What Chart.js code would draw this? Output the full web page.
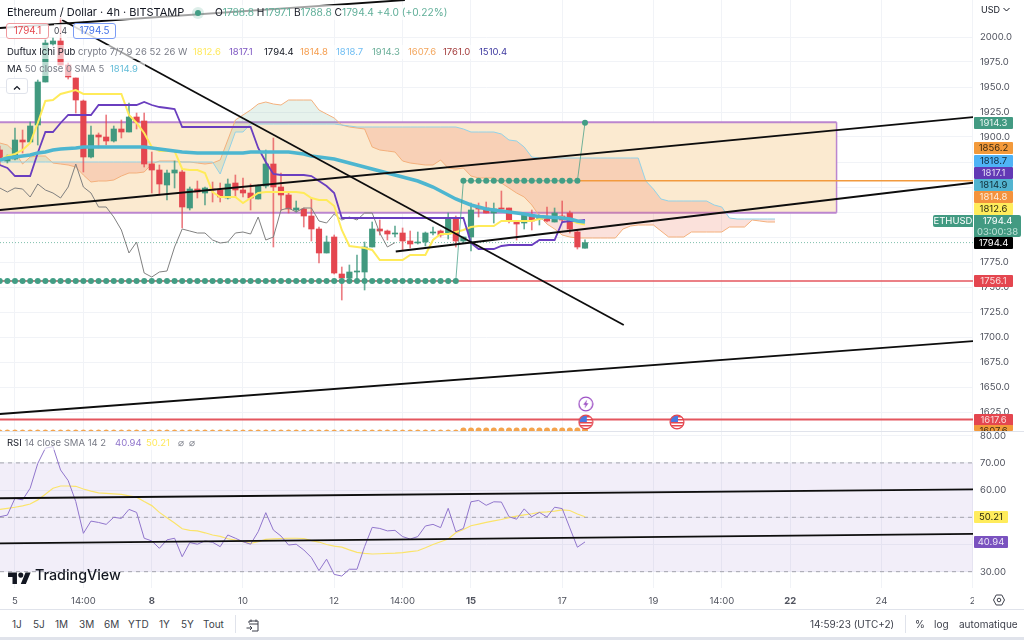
<!DOCTYPE html>
<html lang="fr">
<head>
<meta charset="utf-8">
<title>Ethereum / Dollar 4h</title>
<script src="https://cdn.jsdelivr.net/npm/chart.js@4"></script>
<style>
    html, body { margin: 0; padding: 0; background: #fff; }
    body { position: relative; width: 1024px; height: 640px; overflow: hidden; font-family: Inter, sans-serif; color: #131722; }
    canvas { position: absolute; left: 0; }
    #mainChart { top: 0; }
    #rsiChart { top: 431px; }
    .abs { position: absolute; white-space: nowrap; }
    .row { position: absolute; height: 14px; line-height: 14px; font-size: 9.5px; background: rgba(255,255,255,.62); white-space: nowrap; z-index: 5; }
    .row span { position: absolute; top: 0; }
    .grey { color: #787b86; }
    .tag { position: absolute; left: 974px; width: 39px; height: 12px; line-height: 12px; font-size: 9.5px; text-align: center; border-radius: 1px; overflow: hidden; z-index: 6; }
    .tool { position: absolute; top: 617px; height: 15px; line-height: 15px; font-size: 10px; color: #3c3f4a; white-space: nowrap; }
</style>
</head>
<body>
<canvas id="mainChart" width="1024" height="431"></canvas>
<canvas id="rsiChart" width="1024" height="178"></canvas>

<div class="abs" style="left:0;top:431px;width:1024px;height:1px;background:#e0e3eb;z-index:4"></div>
<div class="abs" style="left:0;top:609px;width:1024px;height:1px;background:#e0e3eb"></div>
<div class="abs" style="left:0;top:637px;width:1024px;height:3px;background:#e0e3eb"></div>

<!-- legende -->
<div class="row" style="left:6px;top:5px;width:446px;height:15px"></div>
<div class="abs" style="left:7px;top:4px;font-size:11px;line-height:16px;z-index:6">Ethereum / Dollar · 4h · BITSTAMP</div>
<div class="abs" style="left:195px;top:10px;width:6px;height:6px;border-radius:50%;background:#429e85;box-shadow:0 0 0 3px rgba(66,158,133,.18);z-index:6"></div>
<div class="abs" style="left:215px;top:5px;font-size:10.2px;line-height:15px;color:#5fae98;z-index:6"><span style="color:#131722">O</span>1788.8 <span style="color:#131722">H</span>1797.1 <span style="color:#131722">B</span>1788.8 <span style="color:#131722">C</span>1794.4 +4.0 (+0.22%)</div>

<div class="abs" style="left:6px;top:23px;width:41px;height:14px;line-height:14px;border:1px solid #ef9a9f;border-radius:3px;background:rgba(255,255,255,.85);color:#e5484f;font-size:9.8px;text-align:center;z-index:6">1794.1</div>
<div class="abs" style="left:54px;top:24px;font-size:8.5px;line-height:14px;color:#434651;background:rgba(255,255,255,.7);z-index:6">0.4</div>
<div class="abs" style="left:73px;top:23px;width:41px;height:14px;line-height:14px;border:1px solid #7b9cf5;border-radius:3px;background:rgba(255,255,255,.85);color:#3f6fe8;font-size:9.8px;text-align:center;z-index:6">1794.5</div>

<div class="row" style="left:6px;top:45px;width:506px">
    <span style="left:1px">Duftux Ichi Pub <span class="grey" style="position:static">crypto 7/7 9 26 52 26 W</span></span>
    <span style="left:187px;color:#ffe95c">1812.6</span>
    <span style="left:223px;color:#7e57c2">1817.1</span>
    <span style="left:258px;color:#131722">1794.4</span>
    <span style="left:294px;color:#f59d4e">1814.8</span>
    <span style="left:330px;color:#6fbdf2">1818.7</span>
    <span style="left:366px;color:#6aae98">1914.3</span>
    <span style="left:402px;color:#f3a65d">1607.6</span>
    <span style="left:437px;color:#a33d3d">1761.0</span>
    <span style="left:473px;color:#3f3aa0">1510.4</span>
</div>
<div class="row" style="left:6px;top:62px;width:139px">
    <span style="left:1px">MA <span class="grey" style="position:static">50 close 0 SMA 5</span></span>
    <span style="left:104px;color:#63bcd8">1814.9</span>
</div>
<div class="abs" style="left:6px;top:78px;width:20px;height:14px;border:1px solid #e0e3eb;border-radius:3px;background:#fff;z-index:6">
    <svg width="20" height="14"><path d="M7 8.5l3-3 3 3" fill="none" stroke="#131722" stroke-width="1.2"/></svg>
</div>

<div class="row" style="left:6px;top:436px;width:192px">
    <span style="left:1px">RSI <span class="grey" style="position:static">14 close SMA 14 2</span></span>
    <span style="left:109px;color:#9075cc">40.94</span>
    <span style="left:140px;color:#ffe95c">50.21</span>
    <span class="grey" style="left:172px">⌀</span>
    <span class="grey" style="left:183px">⌀</span>
</div>

<!-- axe des prix -->
<div class="abs" style="left:981px;top:3px;font-size:9px;line-height:14px;color:#131722;z-index:6">USD <svg width="7" height="6"><path d="M0.5 1l3 3 3-3" fill="none" stroke="#131722"/></svg></div>
<div id="tags"></div>
<div class="abs" style="left:933px;top:215px;width:40px;height:12px;line-height:12px;background:#429a82;color:#fff;font-size:9.5px;text-align:center;border-radius:2px 0 0 2px;z-index:6">ETHUSD</div>
<div class="abs" style="left:974px;top:215px;width:47px;height:22px;background:#429a82;color:#fff;font-size:9.5px;line-height:11px;text-align:center;border-radius:0 2px 2px 0;z-index:6">1794.4<br><span style="color:#bfe2d8">03:00:38</span></div>

<!-- logo -->
<div class="abs" style="left:8px;top:568px;z-index:6">
    <svg width="23" height="14" viewBox="0 0 36 22"><path d="M14 22H7V11H0V4h14v18zM28 22h-8l7.5-18h8L28 22z" fill="#131722"/><circle cx="20" cy="8" r="4" fill="#131722"/></svg>
</div>
<div class="abs" style="left:35px;top:566px;font-size:14.3px;line-height:18px;font-weight:500;color:#131722;z-index:6">TradingView</div>

<!-- engrenage -->
<div class="abs" style="left:974px;top:590px;width:50px;height:18px;background:#fff">
    <svg style="position:absolute;left:19px;top:4px" width="12" height="12" viewBox="0 0 12 12"><path d="M3.2 1h5.6L11.5 6 8.8 11H3.2L.5 6z" fill="none" stroke="#3c3f4a"/><circle cx="6" cy="6" r="1.8" fill="none" stroke="#3c3f4a"/></svg>
</div>

<!-- barre du bas -->
<div id="rangeBar"></div>
<div class="abs" style="left:235px;top:615px;width:1px;height:18px;background:#e0e3eb"></div>
<div class="abs" style="left:246px;top:617px">
    <svg width="14" height="14" viewBox="0 0 14 14"><path d="M3 4V2h9v10H6M3 5h9M5 .5v2.5M10 .5v2.5M.5 9H6M4 7l2 2-2 2" fill="none" stroke="#3c3f4a"/></svg>
</div>
<div class="tool" style="left:810px">14:59:23 (UTC+2)</div>
<div class="abs" style="left:905px;top:615px;width:1px;height:18px;background:#e0e3eb"></div>
<div class="tool" style="left:915px">%</div>
<div class="tool" style="left:934px">log</div>
<div class="tool" style="left:959px">automatique</div>

<script>
    // ===== donnees =====
    const firstBar = -2;   // les series commencent 2 bougies avant le repere "5"

    const opens = [1887, 1876, 1878, 1897, 1895, 1912, 1955, 1993, 1996, 1972,
        1959, 1936, 1880, 1902, 1900, 1896, 1908, 1905, 1920, 1916,
        1873, 1867, 1852, 1864, 1865, 1829, 1848, 1844, 1848, 1847,
        1839, 1854, 1847, 1844, 1838, 1851, 1873, 1850, 1842, 1827,
        1828, 1821, 1808, 1784, 1800, 1763, 1759, 1765, 1765, 1790,
        1808, 1806, 1803, 1804, 1796, 1794, 1795, 1804, 1806, 1803,
        1819, 1796, 1800, 1830, 1829, 1824, 1829, 1829, 1816, 1814,
        1822, 1818, 1820, 1815, 1821, 1824, 1805, 1788.8];
    const highs = [1891, 1882, 1909, 1907, 1915, 1957, 1997, 1999, 2019, 1974,
        1959, 1937, 1911, 1904, 1922, 1911, 1917, 1934, 1924, 1924,
        1885, 1872, 1867, 1876, 1867, 1850, 1856, 1850, 1855, 1854,
        1858, 1862, 1859, 1853, 1852, 1887, 1899, 1864, 1844, 1836,
        1829, 1839, 1810, 1801, 1802, 1770, 1772, 1782, 1795, 1815,
        1817, 1807, 1811, 1809, 1806, 1805, 1805, 1810, 1807, 1824,
        1821, 1800, 1834, 1834, 1835, 1834, 1846, 1829, 1816, 1822,
        1827, 1822, 1830, 1829, 1836, 1826, 1807, 1797.1];
    const lows = [1872, 1874, 1877, 1884, 1894, 1892, 1955, 1991, 1972, 1958,
        1924, 1865, 1879, 1889, 1892, 1895, 1899, 1905, 1908, 1870,
        1844, 1842, 1837, 1849, 1809, 1827, 1839, 1832, 1835, 1835,
        1838, 1840, 1840, 1827, 1838, 1849, 1790, 1827, 1824, 1825,
        1810, 1796, 1774, 1784, 1763, 1737, 1759, 1755, 1747, 1790,
        1802, 1797, 1800, 1787, 1789, 1793, 1791, 1802, 1800, 1798,
        1790, 1794, 1786, 1820, 1824, 1814, 1828, 1814, 1797, 1808,
        1807, 1812, 1815, 1815, 1815, 1804, 1788, 1788.8];
    const closes = [1877, 1879, 1897, 1895, 1911, 1955, 1994, 1996, 1972, 1960,
        1937, 1880, 1902, 1900, 1896, 1908, 1905, 1920, 1915, 1873,
        1867, 1853, 1864, 1867, 1830, 1848, 1845, 1849, 1847, 1840,
        1853, 1847, 1844, 1839, 1851, 1873, 1850, 1842, 1828, 1829,
        1821, 1808, 1784, 1795, 1764, 1759, 1765, 1766, 1790, 1808,
        1806, 1803, 1804, 1796, 1793, 1795, 1804, 1805, 1802, 1819,
        1796, 1800, 1827, 1828, 1824, 1828, 1828, 1816, 1813, 1822,
        1816, 1820, 1816, 1824, 1817, 1808, 1790, 1794.4];

    const conversionLine = [1877, 1881, 1883, 1887, 1894, 1914, 1936, 1937, 1943, 1945,
        1947, 1943, 1943, 1943, 1943, 1943, 1943, 1922, 1914, 1904,
        1890, 1886, 1886, 1886, 1868, 1867, 1867, 1864, 1845, 1840,
        1840, 1840, 1834, 1839, 1844, 1845, 1845, 1845, 1845, 1845,
        1844, 1839, 1837, 1837, 1831, 1807, 1791, 1790, 1789, 1787,
        1777, 1777, 1777, 1777, 1782, 1782, 1782, 1797, 1803, 1803,
        1805, 1807, 1810, 1811, 1811, 1811, 1816, 1816, 1816, 1816,
        1816, 1818, 1820, 1820, 1820, 1817, 1814, 1812.6];
    const baseLine = [1872, 1869, 1861, 1861, 1861, 1884, 1905, 1905, 1914, 1922,
        1922, 1922, 1922, 1932, 1932, 1932, 1932, 1932, 1932, 1935,
        1932, 1930, 1929, 1928, 1910, 1910, 1910, 1910, 1910, 1910,
        1910, 1910, 1910, 1910, 1889, 1875, 1863, 1862, 1862, 1862,
        1862, 1861, 1856, 1851, 1844, 1819, 1819, 1819, 1819, 1819,
        1819, 1819, 1819, 1819, 1819, 1819, 1819, 1819, 1819, 1819,
        1819, 1819, 1794, 1788, 1788, 1788, 1791, 1792, 1792, 1792,
        1792, 1797, 1797, 1797, 1815, 1816, 1816, 1817.1];
    const laggingLine = [1849, 1845, 1849, 1848, 1840, 1853, 1847, 1844, 1839, 1850,
        1873, 1850, 1844, 1830, 1830, 1820, 1807, 1784, 1795, 1764,
        1760, 1765, 1766, 1790, 1808, 1806, 1804, 1804, 1797, 1794,
        1795, 1804, 1805, 1803, 1820, 1797, 1800, 1827, 1829, 1825,
        1829, 1829, 1816, 1814, 1823, 1817, 1820, 1817, 1824, 1824,
        1804, 1790, 1794.4];
    const movingAverage = [1877, 1879, 1880, 1881, 1882, 1884, 1885, 1887, 1888, 1888.5,
        1889, 1890, 1890, 1890, 1890, 1890, 1890, 1890, 1890, 1890,
        1889, 1888, 1887, 1886, 1885, 1884.5, 1884, 1884, 1884, 1884,
        1884, 1884, 1884, 1885, 1885, 1885, 1885, 1885, 1885, 1884,
        1883, 1881, 1880, 1879, 1878, 1876, 1874, 1872, 1870, 1868,
        1866, 1864, 1862, 1860, 1858, 1856, 1853, 1850, 1846, 1842,
        1838, 1835, 1832, 1830, 1828, 1827, 1826, 1825, 1824, 1823,
        1821.5, 1820.5, 1820, 1819.5, 1819, 1818, 1816, 1814.9];
    const spanOrange = [1894, 1892, 1885, 1873, 1880, 1881, 1881, 1874, 1873, 1872,
        1870, 1862, 1855, 1856, 1856, 1857, 1861, 1864, 1864, 1865,
        1873, 1876, 1876, 1876, 1875, 1875, 1874, 1873, 1874, 1877,
        1897, 1917, 1922, 1927, 1933, 1935, 1933, 1932, 1937, 1937,
        1937, 1937, 1927, 1923, 1919, 1912, 1910, 1909, 1908, 1890,
        1887, 1886, 1885, 1876, 1874, 1873, 1872, 1872, 1877, 1869,
        1868, 1869, 1861, 1859, 1859, 1859, 1854, 1849, 1844, 1840,
        1832, 1821, 1813, 1808, 1802, 1800, 1799, 1799, 1799, 1799,
        1799, 1799, 1808, 1811, 1812, 1812, 1812, 1806, 1800, 1800,
        1800, 1805, 1805, 1805, 1805, 1805, 1810, 1810, 1810, 1817,
        1816, 1815, 1815];
    const spanBlue = [1875, 1875, 1875, 1875, 1875, 1875, 1875, 1875, 1875, 1875,
        1875, 1875, 1875, 1875, 1875, 1875, 1875, 1875, 1875, 1875,
        1875, 1875, 1875, 1875, 1875, 1875, 1875, 1875, 1875, 1863,
        1884, 1905, 1905, 1913, 1913, 1913, 1913, 1913, 1913, 1913,
        1913, 1913, 1913, 1913, 1913, 1912, 1911, 1910, 1910, 1910,
        1910, 1910, 1910, 1910, 1910, 1910, 1910, 1910, 1910, 1910,
        1910, 1908, 1905, 1905, 1905, 1905, 1903, 1897, 1896, 1890,
        1880, 1879, 1879, 1879, 1879, 1879, 1879, 1879, 1879, 1879,
        1879, 1879, 1879, 1879, 1879, 1856, 1848, 1838, 1836, 1836,
        1836, 1836, 1836, 1836, 1832, 1830, 1819, 1818, 1818, 1818,
        1818, 1818, 1818];

    // paliers du stop vert : [premiere bougie, derniere bougie, niveau]
    const stopSteps = [[-2, 58, 1756.1], [59, 74, 1856.2], [75, 75, 1914.3]];
    const orangeDotSteps = [[-2, 58, 1604.5], [59, 75, 1606.5]];

    const rsiValues = [50.2, 50.8, 57, 56.4, 60.7, 69.8, 75.4, 76, 67.4, 63.5,
        55.8, 44.1, 48.6, 48.1, 47.4, 50, 49.6, 52.9, 51.8, 42.3,
        41.3, 38.6, 41.7, 42.3, 35.5, 40.7, 40.1, 41.3, 40.8, 39.2,
        43.5, 42.3, 41, 40.1, 44.7, 51.7, 45.3, 43.1, 39.8, 40.1,
        38, 35.2, 30.4, 34.6, 29, 28.4, 30.9, 30.9, 39.2, 46.3,
        45.9, 45, 45.2, 42.9, 42, 42.9, 46.8, 47.4, 46.2, 53.3,
        44.7, 45.9, 55.7, 56.2, 54.4, 55.7, 55.6, 50.2, 49.3, 53.1,
        50.2, 51.8, 50.1, 53.7, 53.2, 46.1, 39, 40.94];
    const rsiAverage = [52.9, 53.3, 53.7, 54.2, 54.9, 56.4, 58.5, 60.7, 61.5, 61.5,
        61.4, 60.4, 59.6, 59, 58.8, 58.6, 58.4, 57.9, 57.4, 55.8,
        54.3, 51.8, 49.8, 47.9, 45.8, 45.2, 45, 44.3, 43.5, 43,
        42.1, 41.6, 41, 40.4, 41, 41.9, 42.1, 42.2, 42.3, 42.3,
        42.2, 41.4, 40.9, 40, 39.4, 39, 38, 37.1, 36.7, 36.5,
        36.6, 36.7, 36.8, 37, 37.4, 37.7, 38.8, 40, 41, 42,
        44.3, 45.5, 46.9, 47.5, 48.1, 48.7, 49.2, 49.9, 50.4, 50.9,
        51.3, 51.8, 52, 52.3, 52.7, 52.5, 51.2, 50.21];

    // droites tracees a la main : [bougie, prix, bougie, prix]
    const priceTrendLines = [
        [-2, 2009, 51.3, 2037],
        [6.2, 2017, 80.1, 1712],
        [-2, 1827, 126.1, 1920],
        [50.1, 1785.5, 126.1, 1854.3],
        [-2, 1623, 126.1, 1696]
    ];
    const rsiTrendLines = [
        [-2, 57, 126.1, 60.3],
        [-2, 40.4, 126.1, 43.9]
    ];

    const boxLeftBar = -2, boxRightBar = 108.1, boxTop = 1914.7, boxBottom = 1824.3;
    const lastPrice = 1794.4, redLevel = 1756.1, lowerRedLevel = 1617.6, orangeLevel = 1856.2, orangeLevelFrom = 74;
    const rsiBands = [70, 50, 30];

    const flagEvents = [[75.1, 1615], [87.1, 1615]];
    const flashEvents = [[75.1, 1633]];

    const priceTicks = [2000, 1975, 1950, 1925, 1900, 1875, 1850, 1825, 1800, 1775, 1750, 1725, 1700, 1675, 1650, 1625];
    const rsiTicks = [80, 70, 60, 50, 40, 30];
    const timeTickBars = [0, 9, 18, 30, 42, 51, 60, 72, 84, 93, 102, 114, 126];
    const timeTickLabels = ['5', '14:00', '8', '10', '12', '14:00', '15', '17', '19', '14:00', '22', '24', '2'];
    const boldTimeLabels = ['8', '15', '22'];

    const priceTagValues = ['1914.3', '1856.2', '1818.7', '1817.1', '1814.9', '1814.8', '1812.6', '1794.4', '1756.1', '1617.6', '1607.6', '50.21', '40.94'];
    const rangeLabels = ['1J', '5J', '1M', '3M', '6M', 'YTD', '1Y', '5Y', 'Tout'];

    // ===== apparence =====
    const xMin = -1.97, xMax = 126.05;
    const priceMax = 2037, priceMin = 1606;
    const rsiMax = 81.73, rsiMin = 24;
    const GREEN = '#41997f', RED = '#e4464f', GRID = '#f1f3f7', LABEL = '#50535e';
    const GREEN_WICK = 'rgba(65,153,127,.8)', RED_WICK = 'rgba(228,70,79,.7)';

    const tagLayout = [
        [117, '#429a82', '#e8f5f1'], [142, '#f39a3b', '#3a2a12'], [155, '#4fb3f6', '#0f2c40'], [167, '#6239b5', '#e6dff5'],
        [179, '#52b4d0', '#0f2c35'], [191, '#f4923c', '#fdeedd'], [203, '#ffec5c', '#2b2a10'], [237, '#000000', '#ffffff'],
        [275, '#e4464f', '#fbdcdc'], [414, '#e4464f', '#fbdcdc'], [425, '#f39a3b', '#3a2a12'], [511, '#ffec5c', '#2b2a10'], [536, '#7a52bf', '#ece6f7']
    ];
    const rangeLefts = [12, 33, 55, 79, 104, 128, 159, 181, 203];

    Chart.defaults.font.family = 'Inter, sans-serif';
    Chart.defaults.font.size = 9.5;
    Chart.defaults.animation = false;

    const series = (values) => values.map((v, i) => ({ x: firstBar + i, y: v }));
    const segment = (l) => [{ x: l[0], y: l[1] }, { x: l[2], y: l[3] }];
    const level = (y, from = xMin) => [{ x: from, y }, { x: xMax, y }];
    const steps = (spans) => spans.flatMap(([a, b, y]) => {
        const out = [];
        for (let i = a; i <= b; i++) out.push({ x: i, y });
        return out;
    });

    function line(data, color, width, order, extra = {}) {
        return Object.assign({
            type: 'line', data, borderColor: color, borderWidth: width, order,
            pointRadius: 0, tension: 0, fill: false
        }, extra);
    }

    // pastilles d'evenements dessinees une fois dans un petit canvas
    function flagIcon() {
        const c = document.createElement('canvas');
        c.width = c.height = 16;
        const g = c.getContext('2d');
        g.beginPath(); g.arc(8, 8, 6.7, 0, Math.PI * 2); g.fillStyle = '#fff'; g.fill(); g.save(); g.clip();
        g.fillStyle = '#e4464f';
        for (let y = 2; y < 15; y += 3) g.fillRect(0, y, 16, 1.5);
        g.fillStyle = '#4a78e0'; g.fillRect(1, 1, 8, 7);
        g.restore();
        g.beginPath(); g.arc(8, 8, 6.9, 0, Math.PI * 2); g.strokeStyle = '#e4464f'; g.lineWidth = 1.3; g.stroke();
        return c;
    }
    function flashIcon() {
        const c = document.createElement('canvas');
        c.width = c.height = 16;
        const g = c.getContext('2d');
        g.beginPath(); g.arc(8, 8, 6.9, 0, Math.PI * 2); g.fillStyle = '#fff'; g.fill();
        g.strokeStyle = '#9c4fc4'; g.lineWidth = 1.3; g.stroke();
        g.beginPath(); g.moveTo(9.3, 3.6); g.lineTo(5.4, 8.8); g.lineTo(7.7, 8.8); g.lineTo(6.7, 12.4); g.lineTo(10.6, 7.2); g.lineTo(8.3, 7.2); g.closePath();
        g.fillStyle = '#9c4fc4'; g.fill();
        return c;
    }

    // pas de marge automatique : la zone de trace colle aux bords du canvas
    function noPadding(scale) {
        scale.paddingTop = scale.paddingBottom = scale.paddingLeft = scale.paddingRight = 0;
    }

    function timeAxis(showLabels) {
        return {
            type: 'linear', min: xMin, max: xMax, offset: false,
            afterBuildTicks: (s) => { s.ticks = timeTickBars.map(v => ({ value: v })); },
            afterFit: (s) => { s.height = showLabels ? 21 : 0; noPadding(s); },
            grid: { color: GRID, drawTicks: false, offset: false },
            border: { display: false },
            ticks: {
                display: showLabels, autoSkip: false, maxRotation: 0, padding: 7, color: LABEL,
                callback: (v, i) => timeTickLabels[i],
                font: (ctx) => ({ size: 9.5, weight: boldTimeLabels.includes(timeTickLabels[ctx.index]) ? 'bold' : 'normal' })
            }
        };
    }

    function valueAxis(min, max, ticks, digits) {
        return {
            position: 'right', min, max,
            afterBuildTicks: (s) => { s.ticks = ticks.map(v => ({ value: v })); },
            afterFit: (s) => { s.width = 51; noPadding(s); },
            grid: { color: GRID, drawTicks: false },
            border: { display: false },
            ticks: { padding: 7, color: LABEL, callback: (v) => v.toFixed(digits) }
        };
    }

    const candleColors = closes.map((c, i) => (c >= opens[i] ? GREEN : RED));
    const wickColors = closes.map((c, i) => (c >= opens[i] ? GREEN_WICK : RED_WICK));

    // ===== graphique principal =====
    new Chart(document.getElementById('mainChart'), {
        type: 'bar',
        data: {
            datasets: [
                // rectangle orange
                line([{ x: boxLeftBar, y: boxTop }, { x: boxRightBar, y: boxTop }], '#bb86cf', 2, 100,
                    { fill: { target: '+1', above: '#fbead0', below: '#fbead0' } }),
                line([{ x: boxLeftBar, y: boxBottom }, { x: boxRightBar, y: boxBottom }], '#bb86cf', 2, 99),
                line([{ x: boxRightBar, y: boxTop }, { x: boxRightBar, y: boxBottom }], '#bb86cf', 1.5, 98),

                // nuage
                line(series(spanOrange), '#f4b07c', 1, 90,
                    { fill: { target: '+1', above: 'rgba(90,170,130,.15)', below: 'rgba(238,120,90,.22)' } }),
                line(series(spanBlue), '#92d2e8', 1, 89),

                // niveaux horizontaux
                line(level(lastPrice), '#7fbfad', 1, 80, { borderDash: [1, 2] }),
                line(level(redLevel), '#e4565e', 1.5, 79),
                line(level(lowerRedLevel), '#e4565e', 2, 78),
                line(level(orangeLevel, orangeLevelFrom), '#f29a3e', 1.5, 77),

                // bougies : meches puis corps
                {
                    type: 'bar', data: highs.map((h, i) => ({ x: firstBar + i, y: [lows[i], h] })),
                    backgroundColor: wickColors, barThickness: 1, grouped: false, order: 60
                },
                {
                    type: 'bar', data: opens.map((o, i) => ({ x: firstBar + i, y: [o, closes[i]] })),
                    backgroundColor: candleColors, barThickness: 5.5, minBarLength: 1, grouped: false, order: 59
                },

                // ichimoku et moyenne mobile
                line(series(laggingLine), '#808080', 1, 40),
                line(series(conversionLine), '#ffeb5a', 2, 39),
                line(series(baseLine), '#6a3ebf', 1.8, 38),
                line(series(movingAverage), '#4db6d0', 3.5, 30),

                // stop vert et points orange
                line(steps(stopSteps), 'rgba(66,158,133,.75)', 1, 20,
                    { pointRadius: 3, pointBackgroundColor: '#429e85', pointBorderWidth: 0 }),
                line(steps(orangeDotSteps), 'rgba(0,0,0,0)', 0, 20,
                    { pointRadius: 3, pointBackgroundColor: '#f4a44c', pointBorderWidth: 0 }),

                // droites noires
                ...priceTrendLines.map(l => line(segment(l), '#0d0d0d', 1.8, 10)),

                // evenements
                line(flagEvents.map(e => ({ x: e[0], y: e[1] })), 'rgba(0,0,0,0)', 0, 1,
                    { showLine: false, pointRadius: 8, pointStyle: flagIcon() }),
                line(flashEvents.map(e => ({ x: e[0], y: e[1] })), 'rgba(0,0,0,0)', 0, 1,
                    { showLine: false, pointRadius: 8, pointStyle: flashIcon() })
            ]
        },
        options: {
            responsive: false,
            layout: { padding: 0, autoPadding: false },
            plugins: { legend: { display: false }, tooltip: { enabled: false } },
            events: [],
            scales: { x: timeAxis(false), y: valueAxis(priceMin, priceMax, priceTicks, 1) }
        }
    });

    // ===== RSI =====
    new Chart(document.getElementById('rsiChart'), {
        type: 'line',
        data: {
            datasets: [
                line(level(rsiBands[0]), 'rgba(0,0,0,0)', 0, 100,
                    { fill: { target: '+1', above: 'rgba(126,87,194,.1)', below: 'rgba(126,87,194,.1)' } }),
                line(level(rsiBands[2]), 'rgba(0,0,0,0)', 0, 99),
                ...rsiBands.map(b => line(level(b), '#a3a3ad', 1, 90, { borderDash: [4, 4] })),
                line(series(rsiAverage), '#fbe46a', 1.2, 40),
                line(series(rsiValues), '#9075cc', 1, 30),
                ...rsiTrendLines.map(l => line(segment(l), '#0d0d0d', 1.8, 10))
            ]
        },
        options: {
            responsive: false,
            layout: { padding: 0, autoPadding: false },
            plugins: { legend: { display: false }, tooltip: { enabled: false } },
            events: [],
            scales: { x: timeAxis(true), y: valueAxis(rsiMin, rsiMax, rsiTicks, 2) }
        }
    });

    // ===== etiquettes de prix et barre du bas =====
    const tagBox = document.getElementById('tags');
    priceTagValues.forEach((txt, i) => {
        const [top, bg, fg] = tagLayout[i];
        const el = document.createElement('div');
        el.className = 'tag';
        el.textContent = txt;
        el.style.cssText = `top:${top}px;background:${bg};color:${fg};`;
        if (i === 10) el.style.height = '6px';
        if (i >= 11) el.style.width = '34px';
        tagBox.appendChild(el);
    });
    const rangeBar = document.getElementById('rangeBar');
    rangeLabels.forEach((txt, i) => {
        const el = document.createElement('div');
        el.className = 'tool';
        el.textContent = txt;
        el.style.left = rangeLefts[i] + 'px';
        rangeBar.appendChild(el);
    });
</script>
</body>
</html>
